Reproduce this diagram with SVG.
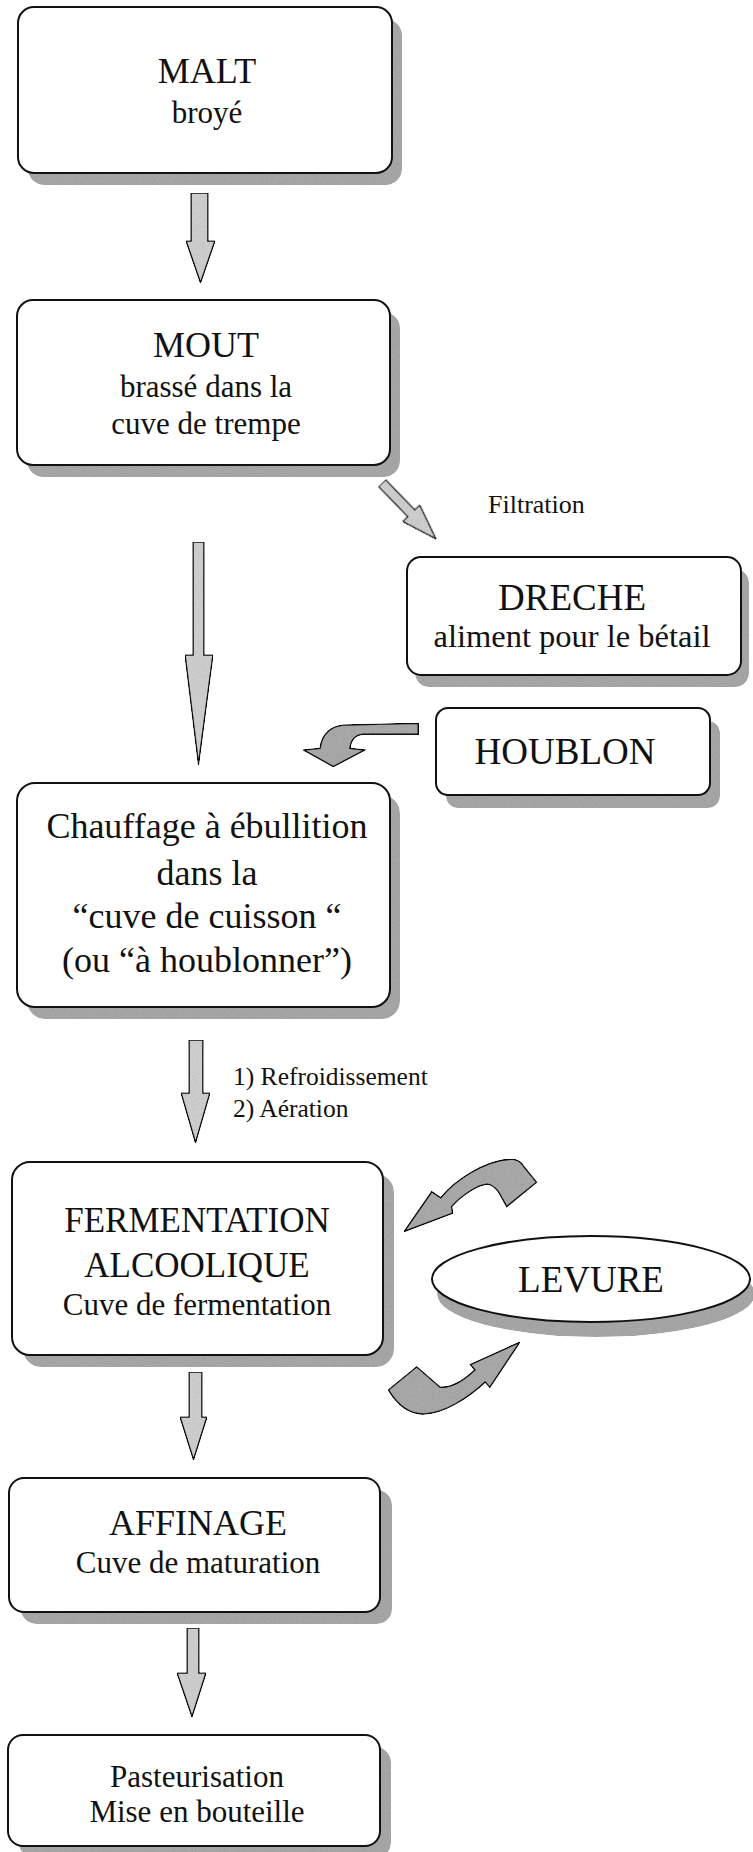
<svg xmlns="http://www.w3.org/2000/svg" width="753" height="1852" viewBox="0 0 753 1852">
<defs>
<filter id="grain" x="0" y="0" width="100%" height="100%">
<feTurbulence type="fractalNoise" baseFrequency="0.9" numOctaves="1" seed="4" result="n"/>
<feColorMatrix in="n" type="saturate" values="0" result="g"/>
<feComponentTransfer in="g" result="gg">
<feFuncR type="linear" slope="0.7" intercept="0.65"/>
<feFuncG type="linear" slope="0.7" intercept="0.65"/>
<feFuncB type="linear" slope="0.7" intercept="0.65"/>
<feFuncA type="linear" slope="0" intercept="1"/>
</feComponentTransfer>
<feBlend in="SourceGraphic" in2="gg" mode="multiply" result="b"/>
<feComposite in="b" in2="SourceAlpha" operator="in"/>
</filter>
</defs>
<style>
.box{fill:#fff;stroke:#111;stroke-width:2}
.shadow{fill:#a6a6a6;filter:url(#grain)}
.t{font-family:"Liberation Serif","Times New Roman",serif;fill:#111;text-anchor:middle}
.big{font-size:36px}
.sub{font-size:31px}
.lbl{font-family:"Liberation Serif","Times New Roman",serif;fill:#111;font-size:26px}
.arr{fill:#cdcdcd;stroke:#111;stroke-width:1.6;stroke-linejoin:miter;filter:url(#grain)}
.carr{fill:#a8a8a8;stroke:#111;stroke-width:1.6;filter:url(#grain)}
</style>
<rect width="753" height="1852" fill="#fff"/>

<g id="malt">
<rect class="shadow" x="28" y="19" width="374" height="166" rx="16"/>
<rect class="box" x="18" y="7" width="374" height="166" rx="16"/>
<text class="t big" x="207" y="83">MALT</text>
<text class="t sub" x="207" y="123">broyé</text>
</g>

<g id="mout">
<rect class="shadow" x="27" y="312" width="373" height="165" rx="16"/>
<rect class="box" x="17" y="300" width="373" height="165" rx="16"/>
<text class="t big" x="206" y="357">MOUT</text>
<text class="t sub" x="206" y="397">brassé dans la</text>
<text class="t sub" x="206" y="434">cuve de trempe</text>
</g>

<g id="dreche">
<rect class="shadow" x="415" y="569" width="334" height="118" rx="14"/>
<rect class="box" x="407" y="557" width="334" height="118" rx="14"/>
<text class="t" style="font-size:37px" x="572" y="610">DRECHE</text>
<text class="t" style="font-size:32.5px" x="572" y="647">aliment pour le bétail</text>
</g>

<g id="houblon">
<rect class="shadow" x="446" y="721" width="274" height="87" rx="12"/>
<rect class="box" x="436" y="708" width="274" height="87" rx="12"/>
<text class="t" style="font-size:37px" x="565" y="764">HOUBLON</text>
</g>

<g id="chauffage">
<rect class="shadow" x="27" y="795" width="373" height="224" rx="18"/>
<rect class="box" x="17" y="783" width="373" height="224" rx="18"/>
<text class="t big" x="207" y="838">Chauffage à ébullition</text>
<text class="t big" x="207" y="885">dans la</text>
<text class="t big" x="207" y="928">“cuve de cuisson “</text>
<text class="t big" x="207" y="972">(ou “à houblonner”)</text>
</g>

<g id="fermentation">
<rect class="shadow" x="23" y="1174" width="371" height="193" rx="18"/>
<rect class="box" x="12" y="1162" width="371" height="193" rx="18"/>
<text class="t" style="font-size:35px" x="197" y="1232">FERMENTATION</text>
<text class="t" style="font-size:35px" x="197" y="1277">ALCOOLIQUE</text>
<text class="t sub" x="197" y="1315">Cuve de fermentation</text>
</g>

<g id="levure">
<ellipse class="shadow" cx="596" cy="1294" rx="159" ry="43"/>
<ellipse class="box" cx="591" cy="1279" rx="159" ry="43"/>
<text class="t" style="font-size:37px" x="591" y="1292">LEVURE</text>
</g>

<g id="affinage">
<rect class="shadow" x="21" y="1490" width="371" height="134" rx="15"/>
<rect class="box" x="9" y="1478" width="371" height="134" rx="15"/>
<text class="t big" x="198" y="1535">AFFINAGE</text>
<text class="t sub" x="198" y="1573">Cuve de maturation</text>
</g>

<g id="pasteurisation">
<rect class="shadow" x="19" y="1747" width="372" height="111" rx="15"/>
<rect class="box" x="8" y="1735" width="372" height="111" rx="15"/>
<text class="t sub" x="197" y="1787">Pasteurisation</text>
<text class="t sub" x="197" y="1822">Mise en bouteille</text>
</g>

<g id="connectors">
<path class="arr" d="M191,193 L208,193 L208,241 L215,241 L200.5,283 L186,241 L191,241 Z"/>
<path class="arr" d="M193,542 L204,542 L204,655 L213,655 L198.5,765 L185,655 L193,655 Z"/>
<path class="arr" d="M189,1040 L203,1040 L203,1093 L210,1093 L195.5,1143 L181,1093 L189,1093 Z"/>
<path class="arr" d="M189,1372 L202,1372 L202,1417 L207,1417 L193.5,1460 L180,1417 L189,1417 Z"/>
<path class="arr" d="M187,1628 L199,1628 L199,1673 L206,1673 L192,1717 L177,1673 L187,1673 Z"/>
<path class="arr" transform="translate(382,483) rotate(-44)" d="M-5,0 L5,0 L5,42 L12,42 L0,78 L-12,42 L-5,42 Z"/>
<path class="carr" d="M418.3,723.3 L343.3,725 C333,726 322,732 320,748.3 L303.3,750 L333.3,766.7 L365,750 L350,748.3 C351,740 356,735 363.3,734.3 L418.3,734.3 Z"/>
<path class="carr" d="M404,1231.7 L431.7,1191.7 L440.7,1197.7 C455,1180 485,1160 511.7,1159 Q520,1160 523.3,1165.7 L536.7,1182.3 L506.7,1206.7 L498.3,1191.7 Q492,1184 486.7,1184.3 C478,1185 462,1195 451.7,1206.7 L452.7,1213.3 Z"/>
<path class="carr" d="M520,1342 L470.3,1364.6 L474.8,1369.9 C462,1382 450,1388 440,1387 L416.7,1366.7 L388.3,1390 C398,1406 410,1415 425,1414 C445,1413 468,1398 485.2,1382.1 L489.8,1387.4 Z"/>
<text class="lbl" x="488" y="513">Filtration</text>
<text class="lbl" style="font-size:25.5px" x="233" y="1085">1) Refroidissement</text>
<text class="lbl" style="font-size:25.5px" x="233" y="1117">2) Aération</text>
</g>
</svg>
